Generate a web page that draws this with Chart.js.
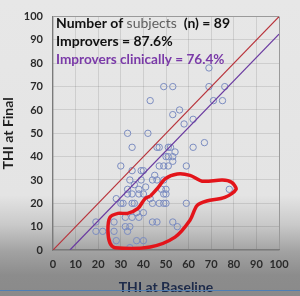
<!DOCTYPE html>
<html>
<head>
<meta charset="utf-8">
<script src="https://cdn.jsdelivr.net/npm/chart.js@4.4.0/dist/chart.umd.min.js"></script>
<style>
  html, body { margin: 0; padding: 0; }
  body {
    width: 300px; height: 296px; overflow: hidden;
    background: linear-gradient(to bottom, #e7e7e7 0%, #e4e4e4 66%, #c9c9c9 76%, #a2a2a2 85%, #8c8c8c 93%, #8a8a8a 100%);
  }
  canvas { display: block; }
</style>
</head>
<body>
<canvas id="thi_chart" width="300" height="296"></canvas>
<script>
// THI at Baseline (x) vs THI at Final (y), one entry per subject
const baseline = [
  69, 49, 53, 69, 76, 43, 71, 75, 53, 56, 58, 62, 33, 42, 67,
  35, 46, 47, 51, 52, 62, 54, 50, 51, 53, 53, 30, 47, 49, 51,
  59, 35, 39, 40, 45, 34, 39, 44, 49, 36, 33, 38, 48, 50, 33,
  35, 38, 40, 49, 50, 28, 43, 30, 31, 35, 44, 47, 49, 50, 59,
  37, 40, 32, 35, 19, 27, 44, 46, 53, 55, 32, 34, 19, 22, 27,
  33, 28, 37, 40, 34, 78, 41, 46, 36, 38
];
const final = [
  78, 70, 70, 70, 70, 64, 64, 64, 58, 60, 54, 56, 50, 50, 46,
  44, 44, 44, 44, 44, 44, 42, 40, 40, 40, 38, 36, 36, 36, 36,
  36, 34, 34, 34, 32, 30, 30, 30, 30, 28, 26, 26, 26, 26, 24,
  24, 24, 24, 24, 24, 22, 22, 20, 20, 20, 20, 20, 20, 20, 20,
  16, 16, 14, 14, 12, 12, 12, 12, 12, 10, 10, 10, 8, 8, 8,
  8, 4, 4, 4, 1, 26, 27, 30, 20, 14
];

// reference lines: no change (y = x) and clinical threshold (y = x - 7.5)
const noChangeLine = [[0, 0], [100, 100]];
const clinicalLine = [[7.5, 0], [100, 92.5]];

// hand-drawn red outline on the slide, in data units
const outline = [
  [43, 23], [46.5, 26.7], [49.6, 30.5], [55, 32.6], [60.6, 32], [66, 29.5],
  [75, 30], [79, 29], [81, 26], [76, 22.5], [68, 21], [63.7, 19],
  [60.6, 12.7], [54, 5.5], [43, 1.3], [27.4, 1], [25.2, 3], [24.3, 8.5],
  [25.2, 14], [28.8, 15.7], [33, 15.7], [37.6, 17.8], [40.7, 22], [43, 23]
];

const tickValues = [0, 10, 20, 30, 40, 50, 60, 70, 80, 90, 100];

const statLines = [
  [["Number of ", "#111", "bold 14px Lato"], ["subjects", "#5e5e5e", "14px Lato"], ["  (n) = 89", "#111", "bold 14px Lato"]],
  [["Improvers = 87.6%", "#111", "bold 14px Lato"]],
  [["Improvers clinically = 76.4%", "#7a3aa8", "bold 13.6px Lato"]]
];

const toXY = (pairs) => pairs.map((p) => ({ x: p[0], y: p[1] }));

const statsPlugin = {
  id: "stats",
  afterDatasetsDraw(chart) {
    const ctx = chart.ctx;
    const left = chart.chartArea.left + 3;
    ctx.save();
    ctx.textBaseline = "middle";
    statLines.forEach((parts, i) => {
      let x = left;
      const y = chart.chartArea.top + 7 + i * 18;
      parts.forEach(([txt, color, font]) => {
        ctx.font = font;
        ctx.fillStyle = color;
        ctx.fillText(txt, x, y);
        x += ctx.measureText(txt).width;
      });
    });
    // blue rule at the foot of the slide
    ctx.strokeStyle = "#4f7fb5";
    ctx.lineWidth = 1;
    ctx.beginPath();
    ctx.moveTo(0, 290.5);
    ctx.lineTo(300, 290.5);
    ctx.stroke();
    ctx.restore();
  }
};

new Chart(document.getElementById("thi_chart"), {
  type: "scatter",
  data: {
    datasets: [
      {
        label: "outline",
        type: "line",
        data: toXY(outline),
        borderColor: "#e3141a",
        borderWidth: 3.5,
        pointRadius: 0,
        tension: 0.3,
        fill: false,
        order: 0
      },
      {
        label: "y = x",
        type: "line",
        data: toXY(noChangeLine),
        borderColor: "#b8323a",
        borderWidth: 1.2,
        pointRadius: 0,
        order: 2
      },
      {
        label: "clinical",
        type: "line",
        data: toXY(clinicalLine),
        borderColor: "#6a3aa0",
        borderWidth: 1.2,
        pointRadius: 0,
        order: 2
      },
      {
        label: "subjects",
        data: baseline.map((b, i) => ({ x: b, y: final[i] })),
        pointStyle: "circle",
        pointRadius: 3.2,
        borderWidth: 1,
        borderColor: "#7b8cc0",
        backgroundColor: "rgba(0,0,0,0)",
        order: 3
      }
    ]
  },
  options: {
    responsive: false,
    devicePixelRatio: 1,
    animation: false,
    layout: { padding: { top: 14, right: 21, left: 0, bottom: 0 } },
    plugins: {
      legend: { display: false },
      tooltip: { enabled: false }
    },
    scales: {
      x: {
        type: "linear",
        min: 0,
        max: 100,
        afterBuildTicks: (scale) => { scale.ticks = tickValues.map((v) => ({ value: v })); },
        afterFit: (scale) => { scale.height = 46; },
        ticks: { color: "#2a2a2a", font: { size: 11, weight: "bold", family: "Lato" }, padding: 8, maxRotation: 0 },
        grid: { color: (c) => (c.tick && c.tick.value === 100 ? "#9a9a9a" : "rgba(0,0,0,0.1)"), drawTicks: false },
        border: { color: "#7a7a7a", width: 1.2 },
        title: {
          display: true,
          text: "THI at Baseline",
          color: "#1e2b4a",
          font: { size: 14, weight: "bold", family: "Lato" },
          padding: { top: 6, bottom: 0 }
        }
      },
      y: {
        type: "linear",
        min: 0,
        max: 100,
        afterBuildTicks: (scale) => { scale.ticks = tickValues.map((v) => ({ value: v })); },
        afterFit: (scale) => { scale.width = 53; },
        ticks: { color: "#2a2a2a", font: { size: 11, weight: "bold", family: "Lato" }, padding: 10 },
        grid: { color: (c) => (c.tick && c.tick.value === 100 ? "#9a9a9a" : "rgba(0,0,0,0.1)"), drawTicks: false },
        border: { color: "#7a7a7a", width: 1.2 },
        title: {
          display: true,
          text: "THI at Final",
          color: "#1f1f1f",
          font: { size: 14, weight: "bold", family: "Lato" },
          padding: { top: 0, bottom: 0 }
        }
      }
    }
  },
  plugins: [statsPlugin]
});
</script>
</body>
</html>
